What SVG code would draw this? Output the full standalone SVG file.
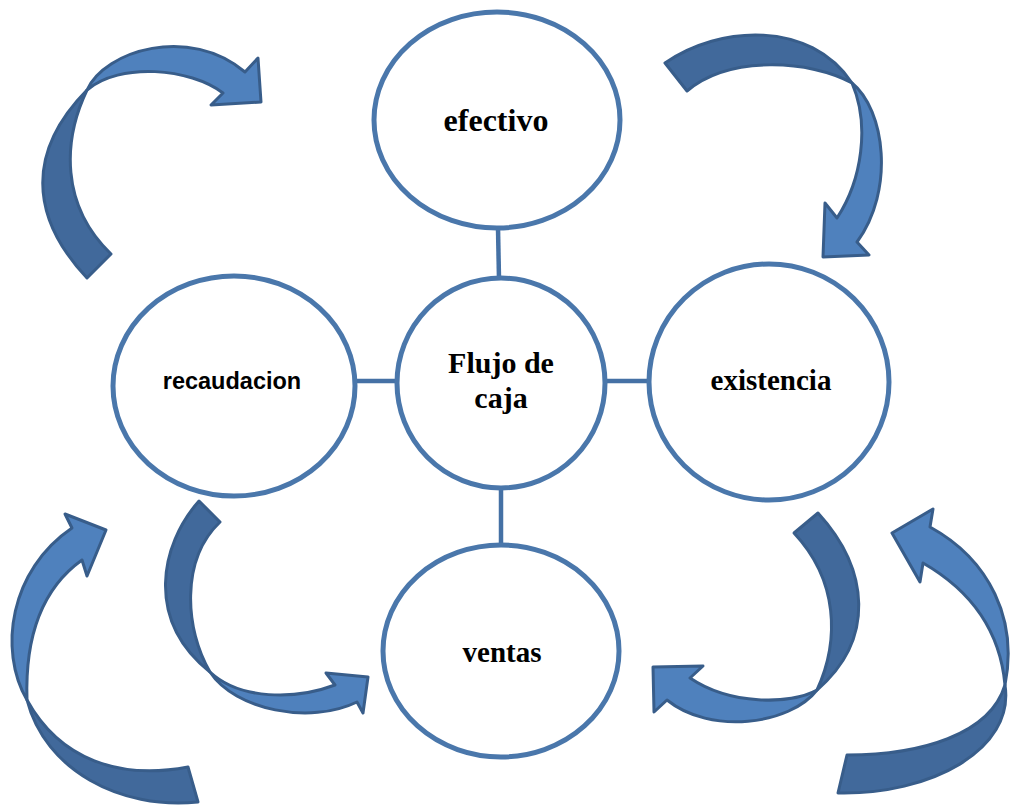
<svg xmlns="http://www.w3.org/2000/svg" width="1010" height="806" viewBox="0 0 1010 806">
<style>
.node{fill:#fff;stroke:#4a77ab;stroke-width:5}
.conn{stroke:#4571a5;stroke-width:4.5;fill:none}
.dark{fill:#41699b;stroke:#385d8a;stroke-width:3;stroke-linejoin:round}
.light{fill:#4f81bd;stroke:#385d8a;stroke-width:3;stroke-linejoin:round}
.t{font-family:"Liberation Serif","Times New Roman",serif;font-weight:bold;fill:#000;text-anchor:middle}
.s{font-family:"Liberation Sans",Arial,sans-serif;font-weight:bold;fill:#000;text-anchor:middle}
</style>
<rect width="1010" height="806" fill="#fff"/>
<g id="connectors">
<line class="conn" x1="498" y1="228" x2="499" y2="279"/>
<line class="conn" x1="355" y1="381" x2="397" y2="381"/>
<line class="conn" x1="605" y1="381" x2="648" y2="381"/>
<line class="conn" x1="501" y1="488" x2="501" y2="545"/>
</g>
<g id="arrows">
<g id="arrow-top-left">
<path class="dark" d="M87,278 C28,215 28,150 87,90 C63,140 60,205 111,254 Z"/>
<path class="light" d="M87,90 C105,50 190,25 245,72 L258,58 L261,102 L211,105 L223,93 C190,68 120,62 87,90 Z"/>
</g>
<g id="arrow-top-right">
<path class="dark" d="M665,63 C720,25 810,20 852,83 C810,60 730,55 687,91 Z"/>
<path class="light" d="M852,83 C885,110 895,190 857,242 L869,255 L823,257 L825,203 L837,218 C862,180 870,125 852,83 Z"/>
</g>
<g id="arrow-inner-left">
<path class="dark" d="M199,501 C160,545 145,620 210,672 C185,630 180,560 220,522 Z"/>
<path class="light" d="M210,672 C235,710 310,725 357,702 L363,713 L368,677 L326,673 L335,685 C295,700 240,700 210,672 Z"/>
</g>
<g id="arrow-inner-right">
<path class="dark" d="M818,513 C870,570 875,640 817,690 C840,640 838,580 794,533 Z"/>
<path class="light" d="M817,690 C790,725 710,735 667,700 L654,712 L653,667 L703,666 L690,678 C730,705 790,705 817,690 Z"/>
</g>
<g id="arrow-outer-left">
<path class="dark" d="M27,700 C45,770 120,810 198,802 L188,767 C120,780 60,760 27,700 Z"/>
<path class="light" d="M27,700 C-2,650 10,570 72,528 L65,514 L106,530 L87,576 L82,560 C40,590 25,640 27,700 Z"/>
</g>
<g id="arrow-outer-right">
<path class="dark" d="M1005,685 C1015,750 930,795 838,793 L847,755 C920,755 990,735 1005,685 Z"/>
<path class="light" d="M1005,685 C1018,620 990,560 930,527 L933,509 L892,533 L920,582 L923,563 C970,590 1000,630 1005,685 Z"/>
</g>
</g>
<g id="node-efectivo">
<ellipse class="node" cx="497" cy="120" rx="123" ry="108"/>
<text class="t" x="496" y="131" font-size="32">efectivo</text>
</g>
<g id="node-flujo">
<ellipse class="node" cx="501" cy="383" rx="104" ry="105"/>
<text class="t" x="501" y="373" font-size="30">Flujo de</text>
<text class="t" x="501" y="408" font-size="30">caja</text>
</g>
<g id="node-recaudacion">
<ellipse class="node" cx="234" cy="386" rx="121" ry="110"/>
<text class="s" x="232" y="389" font-size="23.5">recaudacion</text>
</g>
<g id="node-existencia">
<ellipse class="node" cx="769" cy="382" rx="120" ry="118"/>
<text class="t" x="771" y="390" font-size="29">existencia</text>
</g>
<g id="node-ventas">
<ellipse class="node" cx="501" cy="651" rx="118" ry="106"/>
<text class="t" x="502" y="662" font-size="29">ventas</text>
</g>
</svg>
